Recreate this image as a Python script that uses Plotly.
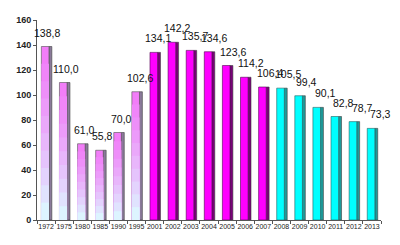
import plotly.graph_objects as go

years = ["1972", "1975", "1980", "1985", "1990", "1995", "2001", "2002", "2003", "2004",
         "2005", "2006", "2007", "2008", "2009", "2010", "2011", "2012", "2013"]
values = [138.8, 110.0, 61.0, 55.8, 70.0, 102.6, 134.1, 142.2, 135.7, 134.6,
          123.6, 114.2, 106.4, 105.5, 99.4, 90.1, 82.8, 78.7, 73.3]
labels = [f"{v:.1f}".replace(".", ",") for v in values]

# group split: gradient (first 6), magenta (next 7), cyan (last 6)
n_grad, n_mag = 6, 7

FRONT_W, FRONT_OFF = 0.42, -0.26
SIDE_W, SIDE_OFF = 0.16, 0.16

fig = go.Figure()

def hexmix(c1, c2, t):
    a = [int(c1[i:i + 2], 16) for i in (1, 3, 5)]
    b = [int(c2[i:i + 2], 16) for i in (1, 3, 5)]
    return "#" + "".join(f"{round(a[i] + (b[i] - a[i]) * t):02x}" for i in range(3))

# side faces
side_colors = ["#8a7a9a"] * n_grad + ["#7a007a"] * n_mag + ["#1e9a9a"] * (len(years) - n_grad - n_mag)
fig.add_trace(go.Bar(x=years, y=values, width=SIDE_W, offset=SIDE_OFF,
                     marker=dict(color=side_colors, line=dict(color="#404040", width=0.6)),
                     hoverinfo="skip", showlegend=False))

# gradient bars (layered)
gx, gy = years[:n_grad], values[:n_grad]
N = 10
top_c, bot_c = "#f27af8", "#dcfcff"
for k in range(N):
    f = 1 - k / N
    t = ((k + 0.5) / N) ** 1.3
    fig.add_trace(go.Bar(x=gx, y=[v * f for v in gy], width=FRONT_W, offset=FRONT_OFF,
                         marker=dict(color=hexmix(top_c, bot_c, t),
                                     line=dict(color="#505050", width=0.6 if k == 0 else 0)),
                         hoverinfo="skip", showlegend=False))

# magenta and cyan bars
fig.add_trace(go.Bar(x=years[n_grad:n_grad + n_mag], y=values[n_grad:n_grad + n_mag],
                     width=FRONT_W, offset=FRONT_OFF,
                     marker=dict(color="#ff00ff", line=dict(color="#500050", width=0.6)),
                     showlegend=False))
fig.add_trace(go.Bar(x=years[n_grad + n_mag:], y=values[n_grad + n_mag:],
                     width=FRONT_W, offset=FRONT_OFF,
                     marker=dict(color="#00ffff", line=dict(color="#206060", width=0.6)),
                     showlegend=False))

# value labels (shifted slightly right, as in the 3D original)
n = len(years)
for i, (v, lab) in enumerate(zip(values, labels)):
    fig.add_annotation(x=i, y=v, text=lab, showarrow=False,
                       xanchor="center", yanchor="bottom",
                       xshift=1 + 8 * i / (n - 1), yshift=6,
                       font=dict(family="Liberation Sans, Arial", size=10.5, color="#111111"))

fig.update_layout(
    width=400, height=245,
    margin=dict(l=37, r=19, t=20, b=25),
    barmode="overlay",
    paper_bgcolor="white", plot_bgcolor="white",
    font=dict(family="Liberation Sans, Arial", color="#222222"),
    xaxis=dict(type="category", categoryorder="array", categoryarray=years,
               range=[-0.5, n - 0.5], autorange=False,
               showgrid=False, showline=True, linecolor="#555555", linewidth=1,
               ticks="outside", tickson="boundaries", ticklen=3, tickcolor="#555555",
               tickfont=dict(size=7, color="#222222"), tickangle=0, fixedrange=True),
    yaxis=dict(range=[0, 160], dtick=20, showgrid=False, showline=True,
               linecolor="#555555", linewidth=1, ticks="outside", ticklen=3,
               tickcolor="#555555", tickfont=dict(size=9, color="#222222", weight="bold"),
               zeroline=False),
)

fig.write_html("out.html")
